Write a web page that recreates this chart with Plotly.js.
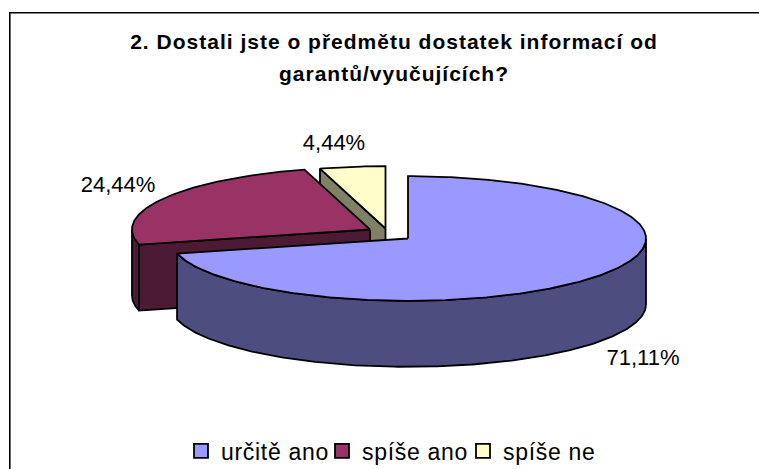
<!DOCTYPE html>
<html><head><meta charset="utf-8">
<script src="https://cdn.plot.ly/plotly-3.0.1.min.js"></script>
<style>html,body{margin:0;padding:0;background:#fff;overflow:hidden}
.gtitle{letter-spacing:1px}
.legendtext{letter-spacing:.7px}</style>
</head><body><div id="c" style="width:759px;height:469px"></div>
<script>
const categories = ['určitě ano', 'spíše ano', 'spíše ne'];
const values = [71.11, 24.44, 4.44];
const chartTitle = '2. Dostali jste o předmětu dostatek informací od<br>garantů/vyučujících?';

// Drawing style and projection, kept apart from the data
const topColors = ['#9999FF', '#993366', '#FFFFCC'];
const sideColors = ['#4D4D80', '#4D1A33', '#808066'];
const centers = [[408, 238.5], [370, 229.5], [385.5, 228.5]];
const labelAt = [[643, 359], [118, 186], [334, 144]];
const RX = 238, RY = 62.3, DEPTH = 66;

const total = values.reduce((a, b) => a + b, 0);
let acc = 0;
const slices = values.map((v, i) => {
  const a0 = acc / total * 2 * Math.PI;
  acc += v;
  return {i, a0, a1: acc / total * 2 * Math.PI, c: centers[i]};
});
const pt = (s, a, d) => [s.c[0] + RX * Math.sin(a), s.c[1] - RY * Math.cos(a) + (d || 0)];
function arc(s, a0, a1, d) {
  const n = Math.max(2, Math.ceil(Math.abs(a1 - a0) / 0.015)), out = [];
  for (let k = 0; k <= n; k++) out.push(pt(s, a0 + (a1 - a0) * k / n, d));
  return out;
}
function poly(points, color) {
  const closed = points.concat([points[0]]);
  return {x: closed.map(p => p[0]), y: closed.map(p => p[1]), mode: 'lines', fill: 'toself',
    fillcolor: color, line: {color: '#000', width: 1.8}, showlegend: false, hoverinfo: 'skip'};
}
const traces = [];
function topFace(s) {
  return poly([s.c].concat(arc(s, s.a0, s.a1)), topColors[s.i]);
}
function cutFace(s, a) {
  return poly([s.c, pt(s, a), pt(s, a, DEPTH), [s.c[0], s.c[1] + DEPTH]], sideColors[s.i]);
}
function rim(s, a0, a1) {
  return poly(arc(s, a0, a1).concat(arc(s, a1, a0, DEPTH)), sideColors[s.i]);
}
const [blue, red, yellow] = slices;
// Painted back to front: yellow, red, then blue
traces.push(cutFace(yellow, yellow.a0), topFace(yellow));
traces.push(cutFace(red, red.a0), rim(red, red.a0, 1.5 * Math.PI), topFace(red));
traces.push(rim(blue, Math.PI / 2, blue.a1), topFace(blue));

traces.push({
  x: labelAt.map(p => p[0]), y: labelAt.map(p => p[1]), mode: 'text',
  text: values.map(v => v.toFixed(2).replace('.', ',') + '%'),
  textposition: 'middle center',
  textfont: {family: 'Liberation Sans, Arial, sans-serif', size: 22, color: '#000'},
  showlegend: false, hoverinfo: 'skip'
});
categories.forEach((name, i) => traces.push({
  x: [-50], y: [-50], mode: 'markers', name,
  marker: {symbol: 'square', size: 14, color: topColors[i], line: {color: '#000', width: 1.8}}
}));

const layout = {
  width: 759, height: 469, margin: {l: 0, r: 0, t: 0, b: 0, autoexpand: false},
  paper_bgcolor: '#fff', plot_bgcolor: '#fff',
  xaxis: {range: [0, 759], visible: false, fixedrange: true},
  yaxis: {range: [469, 0], visible: false, fixedrange: true},
  title: {text: chartTitle, x: 394 / 759, xanchor: 'center', y: 1 - 49 / 469, yanchor: 'top',
    font: {family: 'Liberation Sans, Arial, sans-serif', size: 21, color: '#000', weight: 700}},
  legend: {orientation: 'h', x: 181 / 759, xanchor: 'left', y: 1 - 451 / 469, yanchor: 'middle',
    font: {family: 'Liberation Sans, Arial, sans-serif', size: 23, color: '#000'},
    bgcolor: 'rgba(0,0,0,0)', itemwidth: 30, entrywidth: 96, entrywidthmode: 'pixels'},
  shapes: [
    {type: 'line', xref: 'paper', yref: 'paper', x0: 9.8 / 759, x1: 9.8 / 759, y0: 0, y1: 1 - 12 / 469, line: {color: '#000', width: 1.6}},
    {type: 'line', xref: 'paper', yref: 'paper', x0: 9 / 759, x1: 1, y0: 1 - 12.7 / 469, y1: 1 - 12.7 / 469, line: {color: '#000', width: 1.6}}
  ],
  showlegend: true
};
Plotly.newPlot('c', traces, layout, {displayModeBar: false, staticPlot: true}).then(() => {
  const lines = document.querySelectorAll('.gtitle tspan.line');
  if (lines[1]) lines[1].setAttribute('dy', '1.5em');
});
</script></body></html>
